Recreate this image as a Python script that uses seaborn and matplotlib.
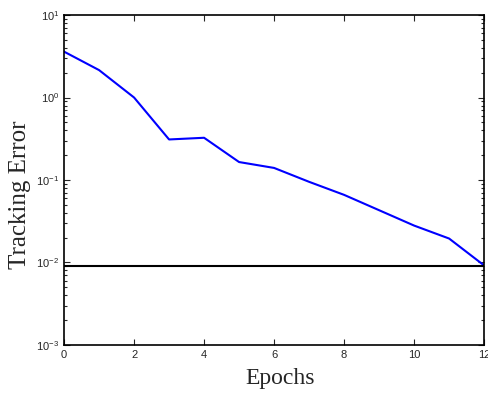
import matplotlib
matplotlib.use("Agg")
import matplotlib.pyplot as plt
import seaborn as sns
import pandas as pd
from matplotlib.ticker import LogLocator, NullFormatter

epochs = [0, 1, 2, 3, 4, 5, 6, 7, 8, 9, 10, 11, 12]
tracking_error = [3.6, 2.15, 1.0, 0.31, 0.325, 0.165, 0.14, 0.095, 0.066, 0.043, 0.028, 0.0195, 0.0092]
threshold = 0.009

df = pd.DataFrame({"Epochs": epochs, "Tracking Error": tracking_error})

sns.set_style("ticks")
fig = plt.figure(figsize=(4.89, 3.96), dpi=100)
ax = fig.add_axes([0.131, 0.129, 0.859, 0.833])

sns.lineplot(data=df, x="Epochs", y="Tracking Error", color="#0000ff", linewidth=1.5, ax=ax)
ax.axhline(threshold, color="black", linewidth=1.5)

ax.set_yscale("log")
ax.set_xlim(0, 12)
ax.set_ylim(1e-3, 1e1)
ax.set_xticks([0, 2, 4, 6, 8, 10, 12])
ax.yaxis.set_major_locator(LogLocator(base=10, numticks=10))
ax.yaxis.set_minor_locator(LogLocator(base=10, subs=range(2, 10), numticks=10))
ax.yaxis.set_minor_formatter(NullFormatter())

for s in ax.spines.values():
    s.set_linewidth(1.2)
    s.set_color("black")
ax.tick_params(which="both", direction="in", top=True, right=True, labelsize=8,
               labelfontfamily="Liberation Sans", width=0.8)
ax.tick_params(which="major", length=4)
ax.tick_params(which="minor", length=2)

ax.set_xlabel("Epochs", fontfamily="Liberation Serif", fontsize=17)
ax.set_ylabel("Tracking Error", fontfamily="Liberation Serif", fontsize=18)
ax.xaxis.set_label_coords(0.514, -0.07)
ax.yaxis.set_label_coords(-0.078, 0.455)

fig.savefig("out.png", dpi=100)
